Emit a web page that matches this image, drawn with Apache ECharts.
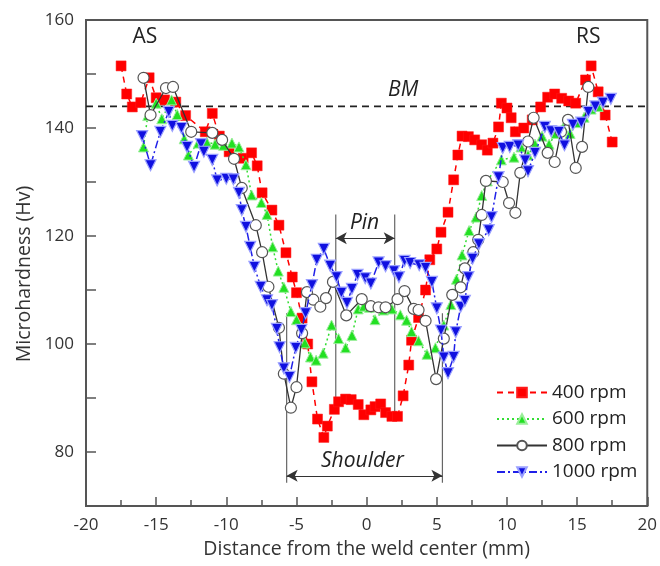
<!DOCTYPE html>
<html><head><meta charset="utf-8">
<script src="https://cdn.jsdelivr.net/npm/echarts@6/dist/echarts.min.js"></script>
<style>html,body{margin:0;padding:0;background:#fff}#c{width:660px;height:566px}</style>
</head><body><div id="c"></div><script>
const seriesNames = ['400 rpm', '600 rpm', '800 rpm', '1000 rpm'];
const rpm400 = [[-17.5,151.5],[-17.1,146.3],[-16.7,143.9],[-16.1,144.7],[-15.5,149.3],[-15.0,145.6],[-14.4,145.2],[-13.6,144.8],[-12.9,142.3],[-11.5,139.3],[-11.0,142.7],[-10.5,138.5],[-9.8,135.6],[-8.8,134.4],[-8.2,135.4],[-7.8,133.0],[-7.45,128.0],[-6.75,124.8],[-6.25,122.0],[-5.75,116.9],[-5.3,112.4],[-5.0,109.5],[-4.6,104.8],[-4.2,100.0],[-3.9,93.0],[-3.5,86.1],[-3.05,82.7],[-2.8,84.8],[-2.3,87.9],[-2.0,89.3],[-1.5,89.8],[-1.1,89.7],[-0.6,88.8],[-0.2,86.9],[0.3,87.8],[0.6,88.4],[1.0,88.9],[1.35,87.3],[1.8,86.6],[2.2,86.6],[2.6,90.4],[3.0,96.1],[3.2,100.7],[3.7,104.9],[4.2,110.0],[4.5,115.6],[5.0,117.6],[5.3,120.7],[5.8,124.4],[6.2,130.4],[6.5,135.0],[6.8,138.5],[7.25,138.4],[7.7,137.8],[8.2,136.9],[8.6,135.9],[9.0,137.2],[9.4,140.2],[9.6,144.6],[10.0,143.7],[10.3,141.9],[10.6,139.3],[11.2,140.0],[11.8,141.5],[12.4,143.9],[12.9,145.7],[13.4,146.3],[13.9,145.5],[14.4,145.0],[14.9,144.6],[15.6,148.9],[16.0,151.5],[16.5,146.7],[17.0,142.4],[17.5,137.4]];
const rpm600 = [[-15.9,136.5],[-15.6,142.3],[-15.0,144.6],[-14.6,141.7],[-13.9,145.2],[-13.5,142.5],[-13.0,138.0],[-12.7,135.0],[-12.0,137.2],[-11.4,137.4],[-10.8,137.0],[-10.2,136.8],[-9.6,137.2],[-9.1,136.5],[-8.6,133.2],[-8.2,127.6],[-7.5,126.2],[-7.1,124.0],[-6.7,118.0],[-6.3,113.5],[-5.9,110.5],[-5.4,106.0],[-5.0,104.5],[-4.4,100.2],[-4.0,97.6],[-3.6,97.0],[-3.1,98.3],[-2.5,103.5],[-2.0,101.0],[-1.5,99.3],[-1.05,101.6],[-0.6,106.5],[-0.2,107.0],[0.2,106.8],[0.6,104.5],[1.2,106.3],[1.8,106.5],[2.4,105.4],[2.85,104.4],[3.2,102.3],[3.7,100.6],[4.3,98.1],[4.9,99.3],[5.5,103.5],[6.0,107.3],[6.4,112.0],[6.8,116.5],[7.3,121.0],[7.8,123.5],[8.2,127.5],[8.6,130.2],[9.6,134.1],[10.5,134.6],[11.0,136.5],[11.5,135.0],[12.0,137.0],[12.5,138.5],[13.0,137.0],[13.5,139.0],[14.0,140.0],[14.5,139.0],[15.0,141.0],[15.5,142.0],[16.0,143.5],[16.5,144.0]];
const rpm800 = [[-15.9,149.3],[-15.4,142.4],[-14.3,147.4],[-13.8,147.6],[-12.5,139.3],[-11.0,139.1],[-10.3,137.8],[-9.45,134.3],[-8.9,128.9],[-7.9,122.0],[-7.45,117.0],[-7.0,110.6],[-6.25,103.0],[-5.9,94.5],[-5.4,88.2],[-5.0,92.0],[-4.6,102.0],[-4.25,109.6],[-3.8,108.2],[-3.3,106.9],[-2.9,108.5],[-2.4,111.5],[-1.45,105.3],[-0.35,108.3],[0.3,107.0],[0.85,106.8],[1.35,106.8],[2.2,108.3],[2.7,109.8],[3.35,106.5],[3.7,106.3],[4.2,104.3],[4.95,93.5],[5.5,101.0],[6.1,109.1],[6.7,110.5],[7.0,114.0],[7.6,117.0],[7.95,119.3],[8.2,123.9],[8.5,130.2],[9.7,130.0],[10.15,126.1],[10.6,124.3],[10.95,131.7],[11.5,137.5],[11.9,141.9],[12.9,135.4],[13.4,133.7],[13.85,139.3],[14.35,141.5],[14.9,132.6],[15.35,136.5],[15.8,147.6]];
const rpm1000 = [[-16.0,138.5],[-15.4,133.1],[-14.7,139.3],[-14.1,143.0],[-13.85,140.4],[-13.2,140.0],[-12.8,136.5],[-12.3,132.8],[-11.8,137.0],[-11.6,135.6],[-11.0,134.1],[-10.65,130.3],[-10.0,130.6],[-9.5,130.5],[-9.1,128.0],[-8.9,124.8],[-8.6,121.7],[-8.3,118.0],[-8.0,114.3],[-7.55,110.6],[-7.1,108.1],[-6.75,107.2],[-6.4,102.8],[-6.2,99.4],[-5.9,95.5],[-5.5,93.9],[-5.05,99.3],[-4.65,102.6],[-4.35,105.7],[-3.9,110.9],[-3.55,115.6],[-3.05,117.6],[-2.6,114.5],[-2.15,112.4],[-1.8,109.5],[-1.4,107.6],[-1.05,110.2],[-0.65,112.8],[-0.1,112.2],[0.3,111.2],[0.85,115.1],[1.35,114.4],[1.95,113.5],[2.3,112.4],[2.7,115.4],[3.1,115.0],[3.75,114.6],[4.2,114.1],[4.65,111.5],[5.0,106.6],[5.3,102.5],[5.5,97.5],[5.8,94.6],[6.2,97.6],[6.35,102.2],[6.7,106.9],[7.0,108.0],[7.25,112.4],[7.55,115.8],[8.0,118.5],[8.7,121.1],[8.9,123.5],[9.4,130.9],[9.7,136.3],[10.2,136.5],[10.8,136.8],[11.3,134.0],[11.5,132.0],[12.0,135.4],[12.7,140.2],[13.15,139.4],[13.7,139.3],[14.1,136.8],[14.7,140.6],[15.3,141.0],[15.8,143.0],[16.3,144.0],[16.85,144.7],[17.4,145.4]];
const bmLevel = 144;
const shoulderX = [-5.7, 5.4];
const pinX = [-2.2, 2.0];
const xRange = [-20, 20];
const yRange = [70, 160];

const FONT = 'Open Sans';
const chart = echarts.init(document.getElementById('c'), null, {renderer: 'canvas'});
const gray = '#555';
function vline(x, y0, y1) {
  return {type: 'line', data: [[x, y0], [x, y1]], symbol: 'none', silent: true, z: 1,
    lineStyle: {color: '#666', width: 1.2}, animation: false};
}
const option = {
  animation: false,
  backgroundColor: '#fff',
  grid: {left: 86, right: 11, top: 20, bottom: 60, show: true, borderColor: gray, borderWidth: 2, backgroundColor: 'transparent'},
  legend: {
    data: seriesNames, orient: 'vertical', left: 491, top: 378, itemWidth: 50, itemHeight: 12, itemGap: 7.5,
    textStyle: {fontFamily: FONT, fontSize: 19, color: '#222'}, selectedMode: false
  },
  xAxis: {
    type: 'value', min: xRange[0], max: xRange[1], interval: 5,
    name: 'Distance from the weld center (mm)', nameLocation: 'middle', nameGap: 33,
    nameTextStyle: {fontFamily: FONT, fontSize: 19.5, color: '#333'},
    axisLine: {show: true, onZero: false, lineStyle: {color: gray, width: 2}},
    axisTick: {show: true, inside: true, length: 9, lineStyle: {color: gray, width: 1.5}},
    minorTick: {show: true, splitNumber: 2, length: 6, lineStyle: {color: gray, width: 1.5}},
    axisLabel: {fontFamily: FONT, fontSize: 17, color: '#333', margin: 11},
    splitLine: {show: false}
  },
  yAxis: {
    type: 'value', min: yRange[0], max: yRange[1], interval: 10,
    name: 'Microhardness (Hv)', nameLocation: 'middle', nameGap: 50,
    nameTextStyle: {fontFamily: FONT, fontSize: 19.5, color: '#333', padding: [0, 22, 0, 0]},
    axisLine: {show: true, onZero: false, lineStyle: {color: gray, width: 2}},
    axisTick: {show: true, inside: true, length: 10, lineStyle: {color: gray, width: 1.5}},
    axisLabel: {fontFamily: FONT, fontSize: 17, color: '#333', margin: 12,
      formatter: v => ((v - 80) % 20 === 0 ? String(v) : '')},
    splitLine: {show: false}
  },
  series: [
    {type: 'line', data: [[xRange[0], bmLevel], [xRange[1], bmLevel]], symbol: 'none', silent: true, z: 1,
      lineStyle: {color: '#222', width: 1.6, type: [7, 5]}},
    Object.assign(vline(shoulderX[0], 74.3, 105.7), {
      markLine: {silent: true, symbol: ['arrow', 'arrow'], symbolSize: [9, 11], label: {show: false},
        lineStyle: {color: '#333', width: 1.2, type: 'solid'}, emphasis: {disabled: true},
        data: [
          [{coord: [shoulderX[0], 75.6]}, {coord: [shoulderX[1], 75.6]}],
          [{coord: [pinX[0], 119.6]}, {coord: [pinX[1], 119.6]}]
        ]}
    }),
    vline(shoulderX[1], 74.3, 105.7),
    vline(pinX[0], 87.2, 124),
    vline(pinX[1], 86.5, 124),
    {name: seriesNames[0], type: 'line', data: rpm400, z: 2, symbol: 'rect', symbolSize: 10,
      itemStyle: {color: '#ff0000', borderColor: '#ff1a1a', borderWidth: 0.5},
      lineStyle: {color: '#ff0000', width: 1.5, type: [6, 5]}},
    {name: seriesNames[1], type: 'line', data: rpm600, z: 3, symbol: 'triangle', symbolSize: 10,
      itemStyle: {color: '#22e022', borderColor: '#99ee99', borderWidth: 1},
      lineStyle: {color: '#33dd33', width: 1.5, type: [2, 3]}},
    {name: seriesNames[2], type: 'line', data: rpm800, z: 4, symbol: 'circle', symbolSize: 11,
      itemStyle: {color: '#ffffff', borderColor: '#555', borderWidth: 1.2},
      lineStyle: {color: '#333', width: 1.3, type: 'solid'}},
    {name: seriesNames[3], type: 'line', data: rpm1000, z: 5, symbol: 'triangle', symbolRotate: 180, symbolSize: 11,
      itemStyle: {color: '#1010e0', borderColor: '#9aa0ff', borderWidth: 1.2},
      lineStyle: {color: '#2020e8', width: 1.5, type: [8, 3, 2, 3]}}
  ]
};
chart.setOption(option);

const labels = [
  {txt: 'AS', at: [-15.8, 156.8], italic: false},
  {txt: 'RS', at: [15.8, 156.8], italic: false},
  {txt: 'BM', at: [2.6, 147.0], italic: true},
  {txt: 'Pin', at: [-0.15, 122.4], italic: true},
  {txt: 'Shoulder', at: [-0.3, 78.4], italic: true}
];
chart.setOption({
  graphic: labels.map(l => {
    const p = chart.convertToPixel({gridIndex: 0}, l.at);
    return {type: 'text', x: p[0], y: p[1], silent: true, z: 100,
      style: {text: l.txt, fontFamily: FONT, fontSize: 21, fontStyle: l.italic ? 'italic' : 'normal',
        fill: '#222', align: 'center', verticalAlign: 'middle'}};
  })
});
</script></body></html>
